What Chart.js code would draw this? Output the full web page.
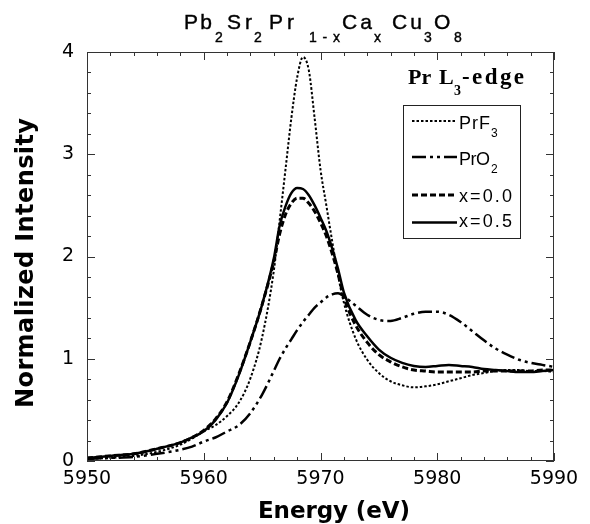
<!DOCTYPE html>
<html>
<head>
<meta charset="utf-8">
<script src="https://cdn.jsdelivr.net/npm/chart.js@4.4.1/dist/chart.umd.min.js"></script>
<style>
  html, body { margin: 0; padding: 0; background: #fff; }
  #wrap { position: relative; width: 590px; height: 524px; }
  #chart { position: absolute; left: 0; top: 0; }
  #overlay { position: absolute; left: 0; top: 0; pointer-events: none; }
</style>
</head>
<body>
<div id="wrap">
  <canvas id="chart" width="590" height="524"></canvas>
  <svg id="overlay" width="590" height="524" xmlns="http://www.w3.org/2000/svg">
    <!-- title -->
    <g font-family="Liberation Sans, Arial, sans-serif" fill="#000" stroke="#000" stroke-width="0.4">
      <text x="184" y="28.5" font-size="21" textLength="28" lengthAdjust="spacing">Pb</text>
      <text x="215" y="41.5" font-size="14">2</text>
      <text x="227" y="28.5" font-size="21" textLength="25" lengthAdjust="spacing">Sr</text>
      <text x="254" y="41.5" font-size="14">2</text>
      <text x="269" y="28.5" font-size="21">P</text>
      <text x="287" y="28.5" font-size="21">r</text>
      <text x="309" y="41.5" font-size="14" textLength="31" lengthAdjust="spacing">1-x</text>
      <text x="342" y="28.5" font-size="21" textLength="30" lengthAdjust="spacing">Ca</text>
      <text x="374" y="41.5" font-size="14">x</text>
      <text x="392" y="28.5" font-size="21" textLength="30" lengthAdjust="spacing">Cu</text>
      <text x="424" y="41.5" font-size="14">3</text>
      <text x="434" y="28.5" font-size="21">O</text>
      <text x="454" y="41.5" font-size="14">8</text>
    </g>
    <!-- axis titles -->
    <text transform="rotate(-90)" x="-263" y="33" text-anchor="middle"
          font-family="DejaVu Sans, sans-serif" font-weight="bold" font-size="24"
          textLength="290" lengthAdjust="spacing">Normalized Intensity</text>
    <text x="334" y="518" text-anchor="middle"
          font-family="DejaVu Sans, sans-serif" font-weight="bold" font-size="23"
          textLength="152" lengthAdjust="spacing">Energy (eV)</text>
    <!-- edge label -->
    <g font-family="Liberation Serif, Times New Roman, serif" font-weight="bold" fill="#000">
      <text x="408" y="83.5" font-size="22">Pr</text>
      <text x="439" y="83.5" font-size="22">L</text>
      <text x="454" y="95" font-size="14">3</text>
      <text x="462" y="83.5" font-size="23" textLength="62" lengthAdjust="spacing">-edge</text>
    </g>
    <!-- legend -->
    <rect x="403.5" y="105.5" width="117" height="133" fill="#fff" stroke="#222" stroke-width="1"/>
    <g stroke="#000" fill="none">
      <line x1="412" y1="121" x2="457" y2="121" stroke-width="2" stroke-dasharray="2.5 2"/>
      <line x1="412" y1="157" x2="457" y2="157" stroke-width="2.5" stroke-dasharray="14 4 3 4 3 4"/>
      <line x1="412" y1="195" x2="457" y2="195" stroke-width="3" stroke-dasharray="6 3"/>
      <line x1="412" y1="222.5" x2="457" y2="222.5" stroke-width="2.5"/>
    </g>
    <g font-family="Liberation Sans, Arial, sans-serif" fill="#000">
      <text x="459" y="128.5" font-size="18" textLength="31" lengthAdjust="spacing">PrF</text>
      <text x="491" y="137" font-size="12">3</text>
      <text x="459" y="164.5" font-size="18" textLength="31" lengthAdjust="spacing">PrO</text>
      <text x="491" y="173" font-size="12">2</text>
      <text x="459" y="201.5" font-size="18" textLength="53" lengthAdjust="spacing">x=0.0</text>
      <text x="459" y="227" font-size="18" textLength="53" lengthAdjust="spacing">x=0.5</text>
    </g>
  </svg>
</div>
<script>
// photon energy (eV), shared by all four spectra
const energy = [5950, 5952, 5954, 5956, 5958, 5959, 5960, 5961, 5962, 5963,
                5964, 5965, 5966, 5966.5, 5967, 5967.5, 5968, 5968.5, 5969, 5969.5,
                5970, 5970.5, 5971, 5971.5, 5972, 5973, 5974, 5975, 5976, 5977,
                5978, 5979, 5980, 5981, 5982, 5983, 5984, 5985, 5986, 5987,
                5988, 5989, 5990];

const prF3 = [0.02, 0.03, 0.05, 0.09, 0.16, 0.22, 0.29, 0.35, 0.44, 0.57,
              0.81, 1.21, 1.86, 2.35, 2.85, 3.35, 3.75, 3.95, 3.82, 3.35,
              2.85, 2.50, 2.15, 1.82, 1.55, 1.20, 0.99, 0.86, 0.78, 0.74,
              0.72, 0.73, 0.75, 0.78, 0.81, 0.84, 0.86, 0.88, 0.89, 0.89,
              0.88, 0.88, 0.87];

const prO2 = [0.02, 0.03, 0.04, 0.07, 0.11, 0.14, 0.19, 0.23, 0.29, 0.35,
              0.47, 0.65, 0.88, 1.00, 1.10, 1.19, 1.28, 1.36, 1.43, 1.50,
              1.55, 1.60, 1.63, 1.64, 1.61, 1.52, 1.43, 1.38, 1.37, 1.40,
              1.44, 1.46, 1.46, 1.43, 1.36, 1.27, 1.18, 1.10, 1.04, 0.99,
              0.96, 0.94, 0.92];

const x00 = [0.03, 0.05, 0.07, 0.12, 0.18, 0.23, 0.30, 0.41, 0.58, 0.85,
             1.17, 1.53, 1.95, 2.22, 2.41, 2.52, 2.57, 2.57, 2.52, 2.44,
             2.33, 2.20, 2.03, 1.83, 1.60, 1.33, 1.16, 1.04, 0.97, 0.92,
             0.89, 0.88, 0.87, 0.87, 0.87, 0.87, 0.88, 0.88, 0.88, 0.88,
             0.88, 0.89, 0.89];

const x05 = [0.03, 0.05, 0.07, 0.12, 0.18, 0.23, 0.29, 0.40, 0.57, 0.84,
             1.17, 1.53, 1.98, 2.30, 2.49, 2.62, 2.67, 2.66, 2.60, 2.50,
             2.38, 2.25, 2.08, 1.88, 1.65, 1.38, 1.22, 1.09, 1.01, 0.96,
             0.93, 0.92, 0.93, 0.94, 0.93, 0.92, 0.90, 0.89, 0.88, 0.87,
             0.87, 0.88, 0.89];

const xTicks = [5950, 5960, 5970, 5980, 5990];
const yTicks = [0, 1, 2, 3, 4];

function pts(values) {
    return energy.map((e, i) => ({ x: e, y: values[i] }));
}

function line(label, values, dash, width) {
    return {
        label: label,
        data: pts(values),
        borderColor: '#000',
        borderWidth: width,
        borderDash: dash,
        pointRadius: 0,
        fill: false,
        cubicInterpolationMode: 'monotone'
    };
}

// frame plus inward major/minor ticks on all four sides
const frameTicks = {
    id: 'frameTicks',
    afterDatasetsDraw(chart) {
        const { ctx, chartArea: a, scales } = chart;
        const xs = scales.x, ys = scales.y;
        ctx.save();
        ctx.strokeStyle = '#333';
        ctx.lineWidth = 1;
        ctx.strokeRect(a.left + 0.5, a.top + 0.5, a.right - a.left - 1, a.bottom - a.top - 1);
        ctx.beginPath();
        for (let v = xs.min; v <= xs.max + 1e-6; v += 2) {
            const px = Math.round(xs.getPixelForValue(v)) + 0.5;
            const len = xTicks.includes(v) ? 8 : 4;
            ctx.moveTo(px, a.bottom); ctx.lineTo(px, a.bottom - len);
            ctx.moveTo(px, a.top); ctx.lineTo(px, a.top + len);
        }
        for (let k = 0; k <= 20; k++) {
            const v = k * 0.2;
            const py = Math.round(ys.getPixelForValue(v)) + 0.5;
            const len = k % 5 === 0 ? 8 : 4;
            ctx.moveTo(a.left, py); ctx.lineTo(a.left + len, py);
            ctx.moveTo(a.right, py); ctx.lineTo(a.right - len, py);
        }
        ctx.stroke();
        ctx.restore();
    }
};

const tickFont = { family: 'DejaVu Sans', size: 19 };

new Chart(document.getElementById('chart').getContext('2d'), {
    type: 'line',
    data: {
        datasets: [
            line('PrF3', prF3, [2.5, 2], 2),
            line('PrO2', prO2, [14, 4, 3, 4, 3, 4], 2.5),
            line('x=0.0', x00, [6, 3], 3),
            line('x=0.5', x05, [], 2.5)
        ]
    },
    options: {
        responsive: false,
        devicePixelRatio: 1,
        animation: false,
        layout: { padding: { top: 52, right: 36, left: 0, bottom: 0 } },
        plugins: {
            legend: { display: false },
            tooltip: { enabled: false }
        },
        scales: {
            x: {
                type: 'linear',
                min: 5950,
                max: 5990,
                afterFit: (s) => { s.height = 63; },
                afterBuildTicks: (s) => { s.ticks = xTicks.map(v => ({ value: v })); },
                grid: { display: false, drawTicks: false },
                border: { display: false },
                ticks: {
                    color: '#000', font: tickFont, padding: 7, maxRotation: 0,
                    callback: (v) => String(v)
                }
            },
            y: {
                type: 'linear',
                min: 0,
                max: 4,
                afterFit: (s) => { s.width = 87; },
                afterBuildTicks: (s) => { s.ticks = yTicks.map(v => ({ value: v })); },
                grid: { display: false, drawTicks: false },
                border: { display: false },
                ticks: {
                    color: '#000', font: tickFont, padding: 13,
                    callback: (v) => String(v)
                }
            }
        }
    },
    plugins: [frameTicks]
});
</script>
</body>
</html>
